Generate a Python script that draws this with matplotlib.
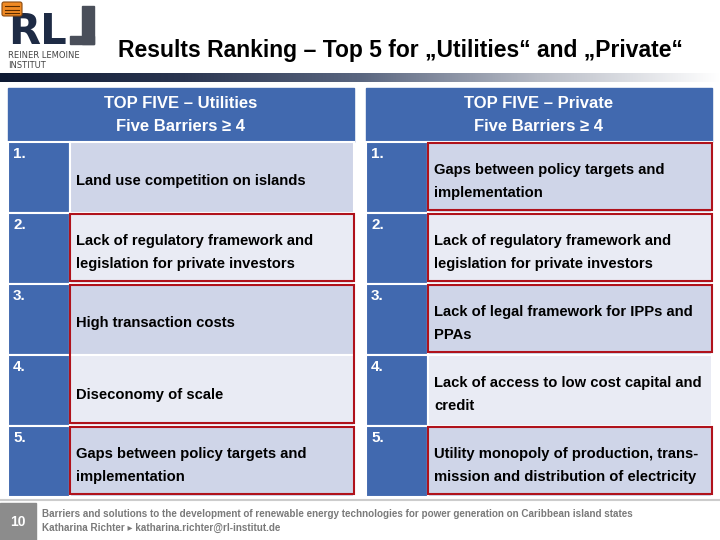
import matplotlib
matplotlib.use("Agg")
import matplotlib.pyplot as plt
import numpy as np
from matplotlib.patches import Rectangle, FancyBboxPatch
from matplotlib.colors import LinearSegmentedColormap

FONT = "Liberation Sans"

title = "Results Ranking – Top 5 for „Utilities“ and „Private“"
ranks = ["1.", "2.", "3.", "4.", "5."]
util_header = "TOP FIVE – Utilities\nFive Barriers ≥ 4"
util_items = ["Land use competition on islands",
              "Lack of regulatory framework and\nlegislation for private investors",
              "High transaction costs",
              "Diseconomy of scale",
              "Gaps between policy targets and\nimplementation"]
priv_header = "TOP FIVE – Private\nFive Barriers ≥ 4"
priv_items = ["Gaps between policy targets and\nimplementation",
              "Lack of regulatory framework and\nlegislation for private investors",
              "Lack of legal framework for IPPs and\nPPAs",
              "Lack of access to low cost capital and\ncredit",
              "Utility monopoly of production, trans-\nmission and distribution of electricity"]
util_boxes = [(1, 1), (2, 3), (4, 4)]
priv_boxes = [(0, 0), (1, 1), (2, 2), (4, 4)]
footer1 = "Barriers and solutions to the development of renewable energy technologies for power generation on Caribbean island states"
footer2 = "Katharina Richter ▸ katharina.richter@rl-institut.de"
page = "10"

fig = plt.figure(figsize=(7.2, 5.4), dpi=100)
ax = fig.add_axes([0, 0, 1, 1])
ax.set_xlim(0, 720); ax.set_ylim(540, 0); ax.axis("off")

BLUE = "#4169AF"
DARK = "#CFD5E8"
LIGHT = "#E9EBF4"
RED = "#B0121B"

# logo
ax.text(8, 44, "RL", fontsize=30, fontweight="bold", color="#1E2B45", family="DejaVu Sans", va="baseline")
ax.add_patch(Rectangle((82, 6), 12, 38, color="#4A4F5A"))
ax.add_patch(Rectangle((70, 36), 24, 8, color="#4A4F5A"))
ax.text(8, 56, "REINER LEMOINE", fontsize=6, color="#444", va="center", family="DejaVu Sans")
ax.text(8, 65, "INSTITUT", fontsize=6, color="#444", va="center", family="DejaVu Sans")
ax.add_patch(FancyBboxPatch((2, 2), 20, 14, boxstyle="round,pad=0,rounding_size=2", fc="#F08A24", ec="#8A4A10", lw=0.8, zorder=6))
for yy in (6, 9.5, 13):
    ax.plot([5, 19], [yy, yy], color="#5a2c00", lw=0.8, zorder=7)

ax.text(400, 50, title, fontsize=16.5, fontweight="bold", ha="center", va="center", family=FONT)

grad = np.linspace(0, 1, 256)[None, :]
cmap = LinearSegmentedColormap.from_list("g", ["#0E1A33", "#2A3550", "#5A6680", "#B8BCC6", "#FFFFFF"])
ax.imshow(grad, extent=(0, 720, 82, 73), cmap=cmap, aspect="auto", zorder=1)

def table(x0, header, items, boxes):
    w_num, w_all = 62, 346
    ax.add_patch(Rectangle((x0, 88), w_all, 54, color=BLUE))
    ax.text(x0 + w_all / 2, 115, header, color="white", fontsize=12, fontweight="bold",
            ha="center", va="center", linespacing=1.6, family=FONT)
    rh = 71
    for i, (r, it) in enumerate(zip(ranks, items)):
        y = 142 + i * rh
        ax.add_patch(Rectangle((x0, y), w_num, rh, color=BLUE, ec="white", lw=1.5))
        ax.add_patch(Rectangle((x0 + w_num, y), w_all - w_num, rh, fc=DARK if i % 2 == 0 else LIGHT, ec="white", lw=1.5))
        ax.text(x0 + 5, y + 5, r, color="white", fontsize=11, fontweight="bold", va="top", family=FONT)
        ax.text(x0 + w_num + 6, y + rh / 2 + 4, it, fontsize=10.6, fontweight="bold", va="center",
                linespacing=1.75, family=FONT)
    for a, b in boxes:
        ax.add_patch(Rectangle((x0 + w_num, 142 + a * rh + 1), w_all - w_num, (b - a + 1) * rh - 4,
                               fill=False, ec=RED, lw=1.5, zorder=5))

table(8, util_header, util_items, util_boxes)
table(366, priv_header, priv_items, priv_boxes)

ax.plot([0, 720], [500, 500], color="#CCCCCC", lw=1.5)
ax.add_patch(Rectangle((0, 503), 36, 37, color="#8C8C8C"))
ax.text(18, 522, page, color="white", fontsize=10, fontweight="bold", ha="center", va="center", family=FONT)
ax.text(42, 514, footer1, color="#7A7A7A", fontsize=7.1, fontweight="bold", va="center", family=FONT)
ax.text(42, 528, footer2, color="#7A7A7A", fontsize=7.1, fontweight="bold", va="center",
        family=[FONT, "DejaVu Sans"])

fig.savefig("out.png", dpi=100)
